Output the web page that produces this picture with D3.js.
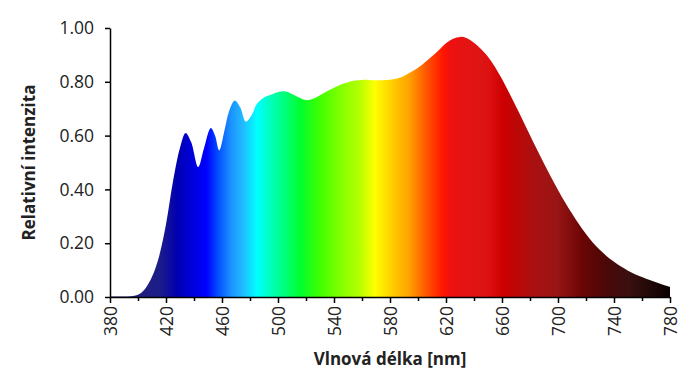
<!DOCTYPE html>
<html>
<head>
<meta charset="utf-8">
<script src="https://cdn.jsdelivr.net/npm/d3@7"></script>
<style>
  body { margin: 0; background: #fff; }
  text { font-family: "Open Sans", Lato, sans-serif; fill: #222; }
</style>
</head>
<body>
<svg id="chart" width="697" height="383"></svg>
<script>
// spectrum
var wavelength = [380, 385, 390, 395, 400, 405, 410, 415, 420, 425, 430, 434, 438, 443, 447, 452, 455, 458, 462, 465, 469, 473, 477, 481, 485, 490, 495, 500, 505, 510, 515, 520, 525, 530, 535, 540, 545, 550, 555, 560, 565, 570, 575, 580, 585, 590, 595, 600, 605, 610, 615, 620, 625, 630, 635, 640, 645, 650, 655, 660, 665, 670, 675, 680, 685, 690, 695, 700, 705, 710, 715, 720, 725, 730, 735, 740, 745, 750, 755, 760, 765, 770, 775, 780]
var intensity = [0.002, 0.002, 0.002, 0.003, 0.008, 0.03, 0.075, 0.15, 0.27, 0.43, 0.555, 0.61, 0.575, 0.483, 0.55, 0.628, 0.6, 0.545, 0.625, 0.69, 0.73, 0.705, 0.652, 0.675, 0.718, 0.742, 0.752, 0.762, 0.765, 0.755, 0.742, 0.732, 0.737, 0.75, 0.765, 0.778, 0.79, 0.798, 0.805, 0.807, 0.807, 0.806, 0.806, 0.808, 0.812, 0.822, 0.836, 0.852, 0.873, 0.895, 0.918, 0.943, 0.96, 0.967, 0.962, 0.945, 0.922, 0.893, 0.855, 0.81, 0.76, 0.708, 0.655, 0.601, 0.548, 0.496, 0.446, 0.398, 0.352, 0.31, 0.27, 0.234, 0.202, 0.175, 0.151, 0.131, 0.113, 0.098, 0.085, 0.074, 0.064, 0.055, 0.046, 0.038]

// fill colours along the wavelength axis
var colorNm = [380, 405, 416, 428, 439, 449, 456, 466, 475, 485, 494, 504, 516, 530, 544, 559, 569, 582, 594, 606, 618, 623, 644, 651, 661, 682, 699, 718, 735, 751, 770, 780]
var colorHex = ['#202060', '#1e1e80', '#1c1c8a', '#0000b0', '#0000dd', '#0000ff', '#0044ff', '#1a90ff', '#22bbff', '#00ffff', '#00ffc0', '#00ff80', '#00ff30', '#40ff00', '#80ff00', '#b8ff00', '#ffff00', '#ffcc00', '#ffa000', '#ff5500', '#ff1500', '#ee1111', '#dd1515', '#dd1010', '#cc0000', '#aa1010', '#991515', '#6a0505', '#4a0808', '#3a1010', '#1a0505', '#0a0000']

var xTicks = [380, 420, 460, 500, 540, 580, 620, 660, 700, 740, 780]
var yTicks = [0, 0.2, 0.4, 0.6, 0.8, 1.0]

var data = wavelength.map((w, i) => ({ w: w, v: intensity[i] }))

var svg = d3.select("#chart"),
    margin = { top: 28, left: 110, bottom: 86, right: 27 },
    width = +svg.attr("width") - margin.left - margin.right,
    height = +svg.attr("height") - margin.top - margin.bottom;

var x = d3.scaleLinear()
    .domain([380, 780])
    .range([margin.left, margin.left + width])

var y = d3.scaleLinear()
    .domain([0, 1])
    .range([margin.top + height, margin.top])

var grad = svg.append("defs").append("linearGradient")
    .attr("id", "spectrum")
    .attr("gradientUnits", "userSpaceOnUse")
    .attr("x1", x(380)).attr("x2", x(780))
    .attr("y1", 0).attr("y2", 0)

grad.selectAll("stop")
    .data(colorNm)
    .enter().append("stop")
    .attr("offset", d => (d - 380) / 400)
    .attr("stop-color", (d, i) => colorHex[i])

var area = d3.area()
    .x(d => x(d.w))
    .y0(y(0))
    .y1(d => y(d.v))
    .curve(d3.curveCatmullRom)

svg.append("path")
    .datum(data)
    .attr("d", area)
    .attr("fill", "url(#spectrum)")

// minor ticks every 20 nm
svg.append("g")
    .attr("transform", `translate(0,${y(0)})`)
    .call(d3.axisBottom(x).tickValues(d3.range(400, 780, 40)).tickSize(4).tickFormat(""))
    .call(g => g.select(".domain").remove())

var xAxis = svg.append("g")
    .attr("transform", `translate(0,${y(0)})`)
    .call(d3.axisBottom(x).tickValues(xTicks).tickSize(6).tickSizeOuter(0).tickFormat(d3.format("d")))

xAxis.selectAll("text")
    .attr("transform", "rotate(-90)")
    .attr("text-anchor", "end")
    .attr("x", -9)
    .attr("y", 0)
    .attr("dy", "0.35em")
    .style("font-size", "17.5px")

var yAxis = svg.append("g")
    .attr("transform", `translate(${margin.left},0)`)
    .call(d3.axisLeft(y).tickValues(yTicks).tickSize(5).tickSizeOuter(0).tickFormat(d3.format(".2f")))

yAxis.selectAll("text")
    .attr("x", -16)
    .style("font-size", "17.5px")

svg.selectAll(".domain, .tick line").attr("stroke", "#000").attr("stroke-width", 1.5)
svg.selectAll(".tick text").style("fill", "#222").style("font-family", '"Open Sans", Lato, sans-serif')

svg.append("text")
    .attr("transform", `translate(35,${y(0.5)}) rotate(-90)`)
    .attr("text-anchor", "middle")
    .style("font-size", "17px")
    .style("font-weight", "bold")
    .text("Relativní intenzita")

svg.append("text")
    .attr("x", x(580))
    .attr("y", 365)
    .attr("text-anchor", "middle")
    .style("font-size", "17px")
    .style("font-weight", "bold")
    .text("Vlnová délka [nm]")
</script>
</body>
</html>
